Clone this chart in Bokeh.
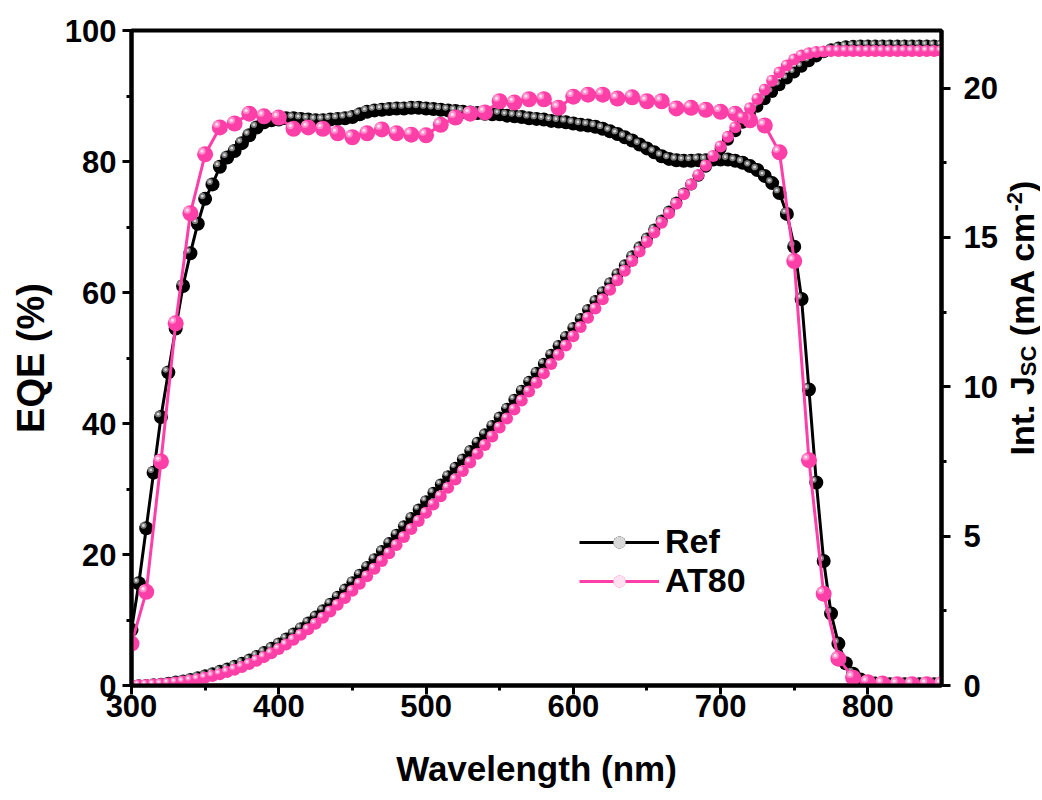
import math
from bokeh.plotting import figure
from bokeh.layouts import row
from bokeh.models import (ColumnDataSource, Range1d, LinearAxis, FixedTicker,
                          Legend, LegendItem)
from bokeh.transform import dodge
from bokeh.core.properties import value
from bokeh.embed import file_html
from bokeh.resources import INLINE

# ---------------- data ----------------
wl_5 = list(range(300, 855, 5))      # Ref EQE, both Jsc curves
wl_10 = list(range(300, 855, 10))    # AT80 EQE

ref_eqe = [8.5, 15.6, 24.0, 32.5, 41.0, 47.8, 54.5, 61.0, 66.0, 70.5,
           74.3, 76.5, 79.2, 80.6, 81.6, 82.8, 84.0, 85.2, 86.0, 86.3,
           86.4, 86.6, 86.6, 86.5, 86.4, 86.3, 86.3, 86.4, 86.5, 86.6,
           86.8, 87.2, 87.6, 87.8, 87.9, 88.0, 88.1, 88.1, 88.2, 88.2,
           88.1, 88.0, 87.9, 87.8, 87.7, 87.6, 87.5, 87.4, 87.3, 87.2,
           87.2, 87.0, 86.9, 86.8, 86.6, 86.5, 86.4, 86.2, 86.1, 86.0,
           85.8, 85.6, 85.5, 85.3, 85.0, 84.6, 84.2, 83.7, 83.2, 82.6,
           82.0, 81.4, 80.8, 80.4, 80.2, 80.1, 80.1, 80.2, 80.2, 80.3,
           80.3, 80.3, 80.1, 79.8, 79.3, 78.7, 77.8, 76.7, 75.2, 72.0,
           67.0, 59.0, 45.2, 31.0, 19.0, 11.0, 6.4, 3.4, 1.8, 0.9,
           0.5, 0.3, 0.2, 0.2, 0.2, 0.2, 0.2, 0.2, 0.2, 0.2, 0.2]

at80_eqe = [6.4, 14.3, 34.2, 55.3, 72.1, 81.1, 85.2, 85.8, 87.3, 86.9,
            86.7, 85.0, 85.2, 85.0, 84.3, 83.7, 84.3, 84.9, 84.3, 84.1,
            84.0, 85.6, 86.7, 87.3, 87.5, 89.2, 89.0, 89.5, 89.5, 88.2,
            89.9, 90.2, 90.2, 89.6, 89.8, 89.2, 89.2, 88.1, 88.2, 87.9,
            87.6, 87.3, 86.3, 85.5, 81.4, 64.8, 34.4, 14.0, 4.1, 1.2,
            0.5, 0.3, 0.2, 0.2, 0.2, 0.2]

ref_jsc = [0.00, 0.01, 0.02, 0.04, 0.06, 0.09, 0.13, 0.17, 0.22, 0.28,
           0.34, 0.41, 0.49, 0.57, 0.66, 0.76, 0.87, 0.99, 1.12, 1.26,
           1.41, 1.57, 1.74, 1.92, 2.11, 2.31, 2.52, 2.74, 2.97, 3.21,
           3.46, 3.71, 3.97, 4.23, 4.50, 4.77, 5.05, 5.33, 5.61, 5.89,
           6.17, 6.45, 6.73, 7.01, 7.29, 7.57, 7.85, 8.13, 8.41, 8.69,
           8.97, 9.27, 9.57, 9.87, 10.17, 10.47, 10.77, 11.07, 11.37, 11.67,
           11.97, 12.27, 12.57, 12.87, 13.17, 13.47, 13.77, 14.07, 14.37, 14.67,
           14.97, 15.27, 15.57, 15.87, 16.17, 16.47, 16.77, 17.07, 17.37, 17.67,
           17.97, 18.27, 18.56, 18.84, 19.12, 19.38, 19.63, 19.87, 20.10, 20.32,
           20.52, 20.72, 20.90, 21.06, 21.20, 21.30, 21.36, 21.40, 21.42, 21.43,
           21.43, 21.43, 21.43, 21.43, 21.43, 21.43, 21.43, 21.43, 21.43, 21.43, 21.43]

at80_jsc = [0.00, 0.01, 0.02, 0.03, 0.05, 0.07, 0.10, 0.13, 0.17, 0.21,
            0.26, 0.32, 0.38, 0.45, 0.53, 0.62, 0.72, 0.83, 0.95, 1.08,
            1.22, 1.37, 1.53, 1.70, 1.88, 2.07, 2.27, 2.48, 2.70, 2.93,
            3.17, 3.41, 3.66, 3.91, 4.17, 4.43, 4.70, 4.97, 5.24, 5.51,
            5.78, 6.06, 6.34, 6.62, 6.90, 7.18, 7.47, 7.76, 8.05, 8.34,
            8.64, 8.94, 9.24, 9.54, 9.84, 10.14, 10.45, 10.76, 11.07, 11.38,
            11.69, 12.00, 12.31, 12.62, 12.93, 13.25, 13.57, 13.89, 14.21, 14.53,
            14.85, 15.17, 15.49, 15.81, 16.13, 16.45, 16.77, 17.09, 17.41, 17.73,
            18.05, 18.37, 18.69, 19.01, 19.33, 19.64, 19.95, 20.25, 20.52, 20.76,
            20.96, 21.09, 21.17, 21.21, 21.23, 21.24, 21.24, 21.24, 21.24, 21.24,
            21.24, 21.24, 21.24, 21.24, 21.24, 21.24, 21.24, 21.24, 21.24, 21.24, 21.24]

series_labels = ["Ref", "AT80"]
x_ticks = [300, 400, 500, 600, 700, 800]
x_minor = [350, 450, 550, 650, 750]
eqe_ticks = [0, 20, 40, 60, 80, 100]
eqe_minor = [10, 30, 50, 70, 90]
jsc_ticks = [0, 5, 10, 15, 20]
jsc_minor = [2.5, 7.5, 12.5, 17.5]
# right-axis title: Int. J_SC (mA cm^-2)
right_title = [("Int. J", "big"), ("SC", "sub"), ("(mA cm", "big"), ("-2", "sup"), (")", "big")]

# ---------------- layout ----------------
W, H = 1000, 798
W2 = 40
FL, FT, FR, FB = 131, 30, 943, 685
X0, X1 = 300, 850
Y1_MAX = 100
Y2_MAX = 21.93
FONT = "Liberation Sans"
BLACK = "#000000"
PINK = "#FF3FA8"

p = figure(width=W, height=H, x_range=Range1d(X0, X1), y_range=Range1d(0, Y1_MAX),
           output_backend="svg", toolbar_location=None,
           min_border_left=FL, min_border_right=W - FR,
           min_border_top=FT, min_border_bottom=H - FB)
p.extra_y_ranges = {"jsc": Range1d(0, Y2_MAX)}
p.grid.visible = False
p.outline_line_color = "black"
p.outline_line_width = 4
p.background_fill_color = "white"
p.border_fill_color = "white"

px_x = (FR - FL) / (X1 - X0)          # pixels per nm
px_y1 = (FB - FT) / Y1_MAX
px_y2 = (FB - FT) / Y2_MAX

def style_axis(ax, title_size="35px"):
    ax.axis_line_width = 4
    ax.axis_line_color = "black"
    ax.major_tick_line_width = 3
    ax.major_tick_in = 0
    ax.major_tick_out = 9
    ax.minor_tick_line_width = 3
    ax.minor_tick_in = 0
    ax.minor_tick_out = 5
    ax.major_label_text_font = FONT
    ax.major_label_text_font_style = "bold"
    ax.major_label_text_font_size = "31px"
    ax.major_label_text_color = "black"
    ax.axis_label_text_font = FONT
    ax.axis_label_text_font_style = "bold"
    ax.axis_label_text_font_size = title_size
    ax.axis_label_text_color = "black"

xa = p.xaxis[0]
style_axis(xa)
xa.ticker = FixedTicker(ticks=x_ticks, minor_ticks=x_minor)
xa.axis_label = "Wavelength (nm)"
xa.major_label_standoff = 0
xa.axis_label_standoff = 29

ya = p.yaxis[0]
style_axis(ya, "38px")
ya.ticker = FixedTicker(ticks=eqe_ticks, minor_ticks=eqe_minor)
ya.axis_label = "EQE (%)"
ya.major_label_standoff = 6
ya.axis_label_standoff = 10

ra = LinearAxis(y_range_name="jsc")
style_axis(ra)
ra.ticker = FixedTicker(ticks=jsc_ticks, minor_ticks=jsc_minor)
ra.major_label_standoff = 13
p.add_layout(ra, "right")

# ---------------- 3D-ball markers ----------------
def balls(src, size, base, hi, core, yname, dy_units):
    dx = -0.2 * size / px_x
    dy = 0.2 * size / dy_units
    kw = dict(source=src, line_color=None)
    if yname:
        kw["y_range_name"] = yname
    r0 = p.scatter("x", "y", size=size, fill_color=base, **kw)
    r1 = p.scatter(x=dodge("x", dx), y=dodge("y", dy), size=size * 0.45,
                   fill_color=hi, **kw)
    r2 = p.scatter(x=dodge("x", dx), y=dodge("y", dy), size=size * 0.2,
                   fill_color=core, **kw)
    return [r0, r1, r2]

s_ref_eqe = ColumnDataSource(dict(x=wl_5, y=ref_eqe))
s_ref_jsc = ColumnDataSource(dict(x=wl_5, y=ref_jsc))
s_at_eqe = ColumnDataSource(dict(x=wl_10, y=at80_eqe))
s_at_jsc = ColumnDataSource(dict(x=wl_5, y=at80_jsc))

ref_line = p.line("x", "y", source=s_ref_eqe, line_color=BLACK, line_width=3)
ref_b = balls(s_ref_eqe, 14, BLACK, "#7a7a7a", "#d8d8d8", None, px_y1)
balls(s_ref_jsc, 12, BLACK, "#7a7a7a", "#d8d8d8", "jsc", px_y2)

at_line = p.line("x", "y", source=s_at_eqe, line_color=PINK, line_width=3)
at_b = balls(s_at_eqe, 16, PINK, "#FF8CCB", "#FFE2F1", None, px_y1)
balls(s_at_jsc, 12, PINK, "#FF8CCB", "#FFE2F1", "jsc", px_y2)

legend = Legend(items=[LegendItem(label=series_labels[0], renderers=[ref_line] + ref_b),
                       LegendItem(label=series_labels[1], renderers=[at_line] + at_b)],
                location=(448, 85), orientation="vertical",
                border_line_color=None, background_fill_alpha=0,
                glyph_width=80, glyph_height=30, spacing=0, padding=0, margin=0,
                label_standoff=6, label_text_font=FONT,
                label_text_font_style="bold", label_text_font_size="34px",
                label_text_baseline="middle", label_text_color="black")
p.add_layout(legend)

# ---------------- right axis title (separate narrow canvas) ----------------
# y data of this canvas = canvas pixel row counted from the top, over the
# same frame rows as the main plot (row layouts align the frames).
p2 = figure(width=W2, height=H, x_range=Range1d(0, W2), y_range=Range1d(FB, FT),
            output_backend="svg", toolbar_location=None, title=None,
            min_border_left=0, min_border_right=0,
            min_border_top=FT, min_border_bottom=H - FB,
            x_axis_location=None, y_axis_location=None)
p2.grid.visible = False
p2.outline_line_color = None
p2.background_fill_color = "white"
p2.border_fill_color = "white"

sizes = {"big": 34, "sub": 22, "sup": 22}
shifts = {"big": 0, "sub": 7, "sup": -7}
em = {"Int. J": 2.334, "SC": 1.389, "(mA cm": 3.667, "-2": 0.889, ")": 0.333}
gap_before = {"(mA cm": 0.278 * 34}     # the word space before "(mA"
x_center = W2 / 2 + 1
y_cur = 455                            # canvas row where the title begins (bottom end)
for txt, kind in right_title:
    fs = sizes[kind]
    y_cur -= gap_before.get(txt, 0)
    p2.text(x=[x_center + shifts[kind]], y=[y_cur], text=[txt], angle=math.pi / 2,
            text_font=value(FONT), text_font_style="bold",
            text_font_size=value(f"{fs}px"), text_align="left",
            text_baseline="middle", text_color="black")
    y_cur -= em[txt] * fs

layout = row(p, p2, spacing=0)
open("out.html", "w").write(file_html(layout, INLINE))
